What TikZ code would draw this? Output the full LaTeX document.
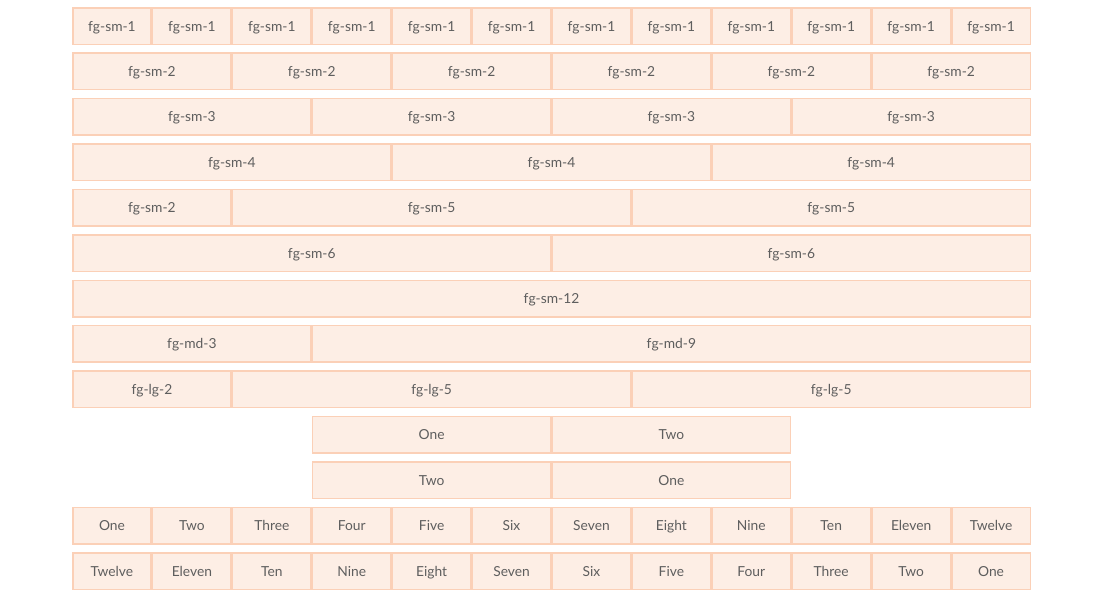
\documentclass[tikz,border=0pt]{standalone}
\usepackage{fontspec}
\setmainfont{Lato}
\definecolor{cellfill}{HTML}{FDEEE5}
\definecolor{cellline}{HTML}{FBD0B7}
\definecolor{celltext}{HTML}{5E5E5E}
\newcommand{\cw}{79.917}
\newcommand{\rp}{45.42}
\newcommand{\mkcell}[5]{% name, row, startcol, span, text
  \node[cellbox, minimum width={#4*\cw*1pt-1.5pt}] (#1) at ({72+(#3+#4/2)*\cw}, {7+#2*\rp+19}) {#5};}
\begin{document}
\begin{tikzpicture}[x=1pt,y=-1pt,
  cellbox/.style={draw=cellline, fill=cellfill, line width=1.5pt, minimum height=36.5pt,
    inner sep=0pt, text height=11pt, text depth=1pt, text=celltext,
    font=\fontsize{13.8}{15}\selectfont}]
\useasboundingbox (0,0) rectangle (1110,598);
% row 0
\foreach \i in {0,...,11} { \mkcell{ra\i}{0}{\i}{1}{fg-sm-1} }
% row 1
\foreach \i in {0,...,5} { \mkcell{rb\i}{1}{2*\i}{2}{fg-sm-2} }
% row 2
\foreach \i in {0,...,3} { \mkcell{rc\i}{2}{3*\i}{3}{fg-sm-3} }
% row 3
\foreach \i in {0,...,2} { \mkcell{rd\i}{3}{4*\i}{4}{fg-sm-4} }
% row 4
\mkcell{re0}{4}{0}{2}{fg-sm-2}
\mkcell{re1}{4}{2}{5}{fg-sm-5}
\mkcell{re2}{4}{7}{5}{fg-sm-5}
% row 5
\mkcell{rf0}{5}{0}{6}{fg-sm-6}
\mkcell{rf1}{5}{6}{6}{fg-sm-6}
% row 6
\mkcell{rg0}{6}{0}{12}{fg-sm-12}
% row 7
\mkcell{rh0}{7}{0}{3}{fg-md-3}
\mkcell{rh1}{7}{3}{9}{fg-md-9}
% row 8
\mkcell{ri0}{8}{0}{2}{fg-lg-2}
\mkcell{ri1}{8}{2}{5}{fg-lg-5}
\mkcell{ri2}{8}{7}{5}{fg-lg-5}
% row 9
\mkcell{rj0}{9}{3}{3}{One}
\mkcell{rj1}{9}{6}{3}{Two}
% row 10
\mkcell{rk0}{10}{3}{3}{Two}
\mkcell{rk1}{10}{6}{3}{One}
% row 11
\foreach \t [count=\i from 0] in {One,Two,Three,Four,Five,Six,Seven,Eight,Nine,Ten,Eleven,Twelve} { \mkcell{rl\i}{11}{\i}{1}{\t} }
% row 12
\foreach \t [count=\i from 0] in {Twelve,Eleven,Ten,Nine,Eight,Seven,Six,Five,Four,Three,Two,One} { \mkcell{rm\i}{12}{\i}{1}{\t} }
\end{tikzpicture}
\end{document}
